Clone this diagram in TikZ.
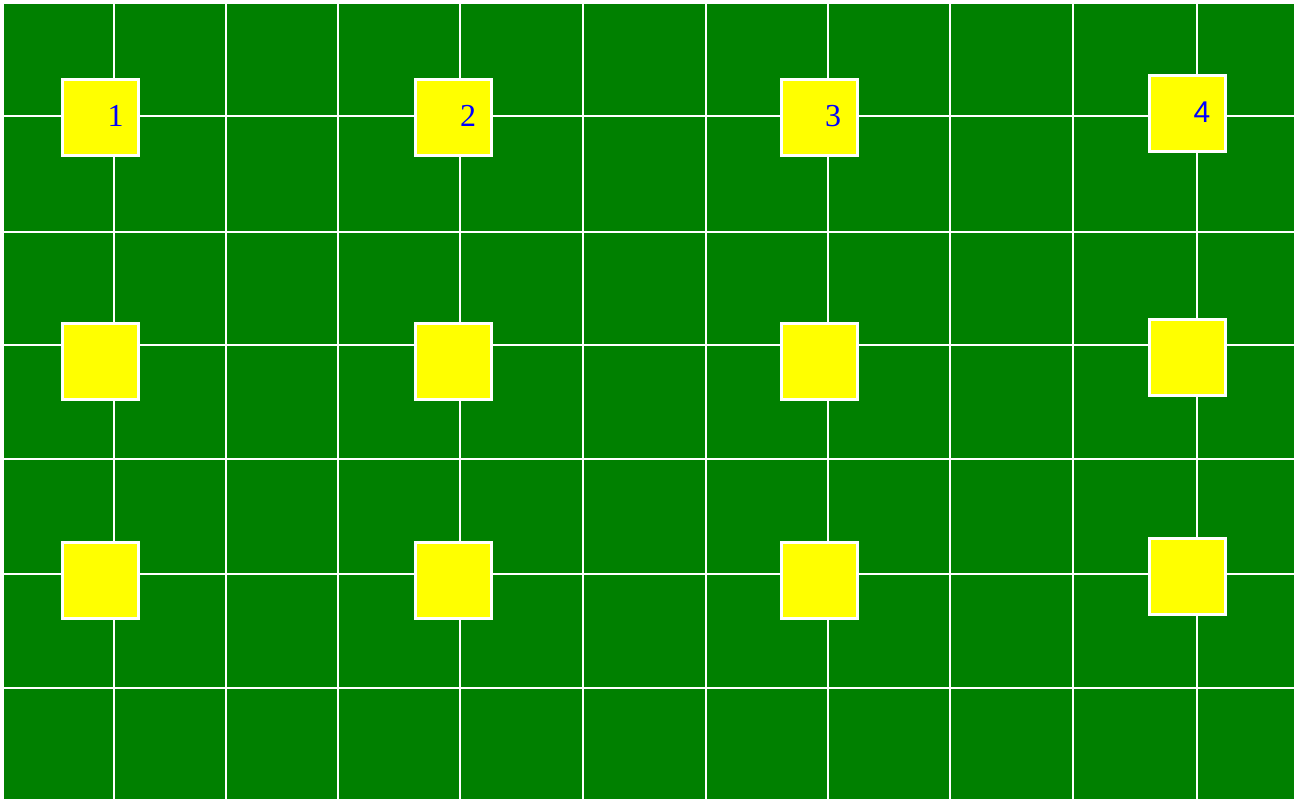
\documentclass[tikz,border=0pt]{standalone}
\usepackage{fontspec}
\setmainfont{Liberation Serif}
\newfontfamily\sansf{Liberation Sans}
\definecolor{bggreen}{HTML}{008000}
\definecolor{boxyellow}{HTML}{FFFF00}
\definecolor{numblue}{HTML}{0000FF}
\tikzset{
  gridline/.style={white, line width=2pt},
  ybox/.style={draw=white, fill=boxyellow, line width=2.4pt, minimum width=76pt, minimum height=76pt, inner sep=0pt},
  num/.style={text=numblue, font=\fontsize{32}{32}\selectfont, inner sep=0pt, anchor=center}
}
\begin{document}
\begin{tikzpicture}[x=1pt,y=-1pt]
\useasboundingbox (0,0) rectangle (1294,799);
\fill[white] (0,0) rectangle (1294,799);
\fill[bggreen] (4,4) rectangle (1294,799);
% vertical grid lines
\foreach \gx in {114,226,338,460,583,706,828,950,1073,1197}
  \draw[gridline] (\gx,4) -- (\gx,799);
% horizontal grid lines
\foreach \gy in {116,232,345,459,574,688}
  \draw[gridline] (4,\gy) -- (1294,\gy);
% boxes
\node[ybox] (b11) at (100.5,117.5) {};
\node[ybox] (b12) at (453.5,117.5) {};
\node[ybox] (b13) at (819.5,117.5) {};
\node[ybox] (b14) at (1187.5,113.5) {};
\node[ybox] (b21) at (100.5,361.5) {};
\node[ybox] (b22) at (453.5,361.5) {};
\node[ybox] (b23) at (819.5,361.5) {};
\node[ybox] (b24) at (1187.5,357.5) {};
\node[ybox] (b31) at (100.5,580.5) {};
\node[ybox] (b32) at (453.5,580.5) {};
\node[ybox] (b33) at (819.5,580.5) {};
\node[ybox] (b34) at (1187.5,576.5) {};
% numbers
\node[num] (n1) at (115.5,116) {1};
\node[num] (n2) at (468,116) {2};
\node[num] (n3) at (833,116) {3};
\node[num, font=\sansf\fontsize{30}{30}\selectfont] (n4) at (1202,112) {4};
\end{tikzpicture}
\end{document}
